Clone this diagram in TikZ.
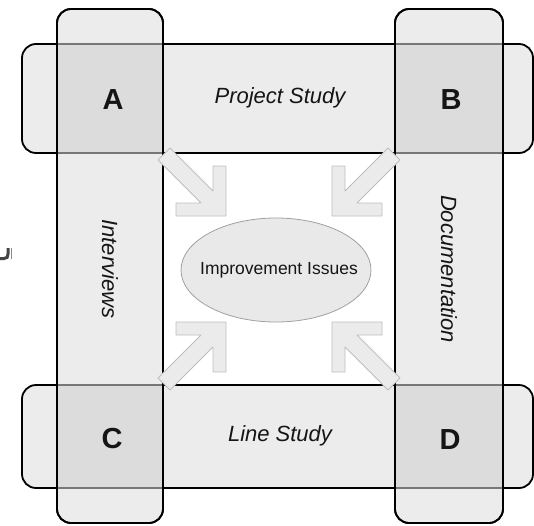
\documentclass[tikz,border=0pt]{standalone}
\usepackage{fontspec}
\setmainfont{Liberation Sans}
\definecolor{bandfill}{HTML}{ECECEC}
\definecolor{cornerfill}{HTML}{DCDCDC}
\definecolor{seamline}{HTML}{777777}
\definecolor{arrowfill}{HTML}{EBEBEB}
\definecolor{arrowline}{HTML}{BEBEBE}
\definecolor{ellfill}{HTML}{E9E9E9}
\definecolor{ellline}{HTML}{A0A0A0}
\definecolor{inktext}{HTML}{151515}
\begin{document}
\begin{tikzpicture}[x=1pt,y=-1pt,
  band/.style={fill=bandfill, draw=black, line width=1.8pt, rounded corners=14pt},
  bandedge/.style={draw=black, line width=1.8pt, rounded corners=14pt},
  corner/.style={fill=cornerfill},
  seam/.style={draw=seamline, line width=1.2pt},
  blockarrow/.style={fill=arrowfill, draw=arrowline, line width=0.9pt, line join=round},
  letter/.style={text=inktext, font=\bfseries\fontsize{29}{30}\selectfont},
  label/.style={text=inktext, font=\itshape\fontsize{22}{24}\selectfont},
  issue/.style={text=inktext, font=\fontsize{17.5}{20}\selectfont}
]
\useasboundingbox (0,0) rectangle (534,525);

% horizontal bands
\path[band] (22,44) rectangle (533,153);
\path[band] (22,385) rectangle (533,488);
% vertical bands
\path[band] (57,9) rectangle (163,523);
\path[band] (395,9) rectangle (503,523);

% overlapping corner squares
\foreach \xa/\xb in {57/163, 395/503}{
  \foreach \ya/\yb in {44/153, 385/488}{
    \fill[corner] (\xa,\ya) rectangle (\xb,\yb);
    \draw[seam] (\xa,\ya) -- (\xb,\ya);
    \draw[seam] (\xa,\yb) -- (\xb,\yb);
  }
}
% vertical band outlines on top
\path[bandedge] (57,9) rectangle (163,523);
\path[bandedge] (395,9) rectangle (503,523);

% block arrows pointing at the centre
\newcommand{\blockarrowpath}{%
  \draw[blockarrow] (-56,-68) -- (-13,-25) -- (-13,-50) -- (0,-50) -- (0,0)
    -- (-50,0) -- (-50,-13) -- (-25,-13) -- (-68,-56) -- cycle;}
\begin{scope}[shift={(226,216)}]\blockarrowpath\end{scope}
\begin{scope}[shift={(332,216)}, xscale=-1]\blockarrowpath\end{scope}
\begin{scope}[shift={(226,322)}, yscale=-1]\blockarrowpath\end{scope}
\begin{scope}[shift={(332,322)}, xscale=-1, yscale=-1]\blockarrowpath\end{scope}

% central ellipse
\draw[fill=ellfill, draw=ellline, line width=0.8pt] (276,270) ellipse [x radius=95, y radius=52];
\node[issue] (issues) at (279,270) {Improvement Issues};

% corner letters
\node[letter] (a) at (113,100) {A};
\node[letter] (b) at (451,100) {B};
\node[letter] (c) at (112,439) {C};
\node[letter] (d) at (450,440) {D};

% band labels
\node[label] (project) at (280,98) {Project Study};
\node[label] (line) at (280,436) {Line Study};
\node[label, rotate=-90] (interviews) at (110,269) {Interviews};
\node[label, rotate=-90] (documentation) at (449,269) {Documentation};

% clipped mark at the left edge
\draw[inktext!80, line width=3pt, line cap=butt] (0,258.5) -- (4,258.5) .. controls (7,258.5) and (8,257) .. (8,254) -- (8,248);
\draw[black!45, line width=0.8pt] (11.5,248) -- (11.5,259);
\end{tikzpicture}
\end{document}
